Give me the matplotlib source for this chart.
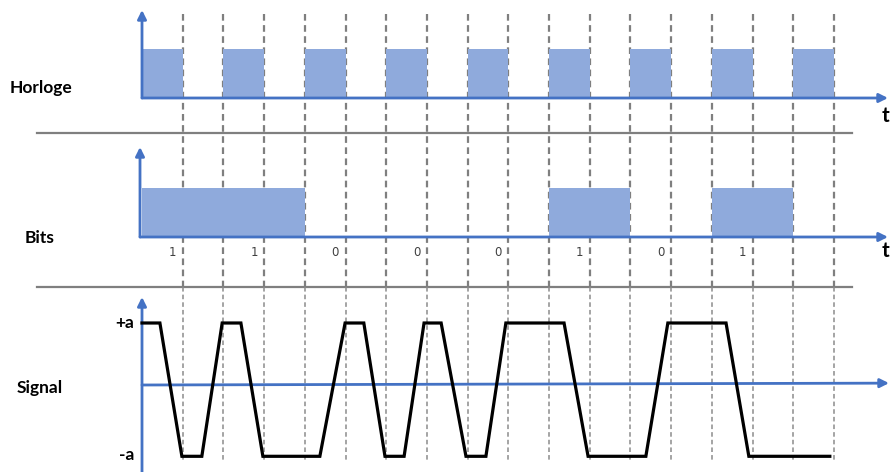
import matplotlib
matplotlib.use("Agg")
import matplotlib.pyplot as plt
import numpy as np

# ---------------- data ----------------
# clock level per half-period (t = 0..17)
clock_levels = [1, 0, 1, 0, 1, 0, 1, 0, 1, 0, 1, 0, 1, 0, 1, 0, 1]
# transmitted bits (each bit spans two half-periods)
bits = [1, 1, 0, 0, 0, 1, 0, 1]
bit_labels = ["1", "1", "0", "0", "0", "1", "0", "1"]
# Manchester signal vertices (time in half-periods, level in units of a)
signal_t = [0, 0.44, 0.98, 1.47, 1.97, 2.43, 2.97, 4.37, 4.99, 5.45, 5.97,
            6.44, 6.93, 7.35, 7.96, 8.45, 8.94, 10.37, 10.96, 12.38, 12.92,
            14.35, 14.91, 16.9]
signal_v = [1, 1, -1.15, -1.15, 1, 1, -1.15, -1.15, 1, 1, -1.15,
            -1.15, 1, 1, -1.15, -1.15, 1, 1, -1.15, -1.15, 1,
            1, -1.15, -1.15]
row_labels = ["Horloge", "Bits", "Signal"]
level_labels = ["+a", "-a"]

# ---------------- style ----------------
W, H = 893, 472
PX = 40.7          # pixels per half-period
X0 = 142           # pixel of t = 0
BLUE = "#4472C4"
FILL = "#8FAADC"
GRAY = "#7F7F7F"
FONT = "Lato"
LBL = 12.5

def tx(px):
    return (px - X0) / PX

fig = plt.figure(figsize=(W / 100, H / 100), dpi=100)
xlim = (tx(0), tx(W))

def panel(top, bottom, zero_px, unit_px):
    ax = fig.add_axes([0, 1 - bottom / H, 1, (bottom - top) / H])
    ax.set_xlim(*xlim)
    ax.set_ylim((zero_px - bottom) / unit_px, (zero_px - top) / unit_px)
    ax.axis("off")
    ax.patch.set_alpha(0)
    return ax

def arrow(ax, start, end, lw=2.0):
    ax.annotate("", xy=end, xytext=start,
                arrowprops=dict(arrowstyle="-|>", color=BLUE, lw=lw,
                                mutation_scale=13, shrinkA=0, shrinkB=0),
                zorder=4)

# background overlay for dashed guides and separators (pixel rows)
bg = fig.add_axes([0, 0, 1, 1])
bg.set_xlim(*xlim)
bg.set_ylim(H, 0)
bg.axis("off")
n_edges = len(clock_levels)
for k in range(1, n_edges + 1):
    bg.plot([k, k], [14, 287], color=GRAY, lw=1.6, ls=(0, (3, 2)), zorder=3)
    bg.plot([k, k], [287, 462], color="#8C8C8C", lw=1.1, ls=(0, (3, 2)), zorder=3)
for yy in (133, 287):
    bg.plot([tx(37), tx(852)], [yy, yy], color=GRAY, lw=1.6, zorder=2)

# ---------------- Horloge ----------------
ax1 = panel(0, 133, 98, 49)
for i, lv in enumerate(clock_levels):
    if lv:
        ax1.fill_between([i, i + 1], 0, lv, color=FILL, lw=0, zorder=1)
arrow(ax1, (0, 0), (0, (98 - 10) / 49))
arrow(ax1, (0, 0), (tx(888), 0))
ax1.text(tx(882), -0.36, "t", fontsize=15, fontweight="bold", family=FONT,
         ha="left", va="center")
ax1.text(tx(10), (98 - 88) / 49, row_labels[0], fontsize=LBL, fontweight="bold",
         family=FONT, ha="left", va="center")

# ---------------- Bits ----------------
ax2 = panel(133, 287, 237, 49)
for k, b in enumerate(bits):
    if b:
        ax2.fill_between([2 * k, 2 * k + 2], 0, b, color=FILL, lw=0, zorder=1)
    ax2.text(2 * k + 0.75, -0.31, bit_labels[k], fontsize=8.5, color="#404040",
             family="DejaVu Sans", ha="center", va="center")
arrow(ax2, (tx(140), 0), (tx(140), (237 - 147) / 49))
arrow(ax2, (tx(140), 0), (tx(888), 0))
ax2.text(tx(882), -0.28, "t", fontsize=15, fontweight="bold", family=FONT,
         ha="left", va="center")
ax2.text(tx(25), (237 - 238) / 49, row_labels[1], fontsize=LBL, fontweight="bold",
         family=FONT, ha="left", va="center")

# ---------------- Signal ----------------
ax3 = panel(287, 472, 385, 62)
arrow(ax3, (0, (385 - 472) / 62), (0, (385 - 297) / 62))
arrow(ax3, (0, 0), (tx(889), 0.03))
ax3.plot(signal_t, signal_v, color="black", lw=2.3, solid_joinstyle="miter",
         zorder=5)
ax3.text(tx(134), 1.0, level_labels[0], fontsize=LBL, fontweight="bold",
         family=FONT, ha="right", va="center")
ax3.text(tx(134), -1.13, level_labels[1], fontsize=LBL, fontweight="bold",
         family=FONT, ha="right", va="center")
ax3.text(tx(17), (385 - 388) / 62, row_labels[2], fontsize=LBL, fontweight="bold",
         family=FONT, ha="left", va="center")

fig.savefig("out.png", dpi=100)
